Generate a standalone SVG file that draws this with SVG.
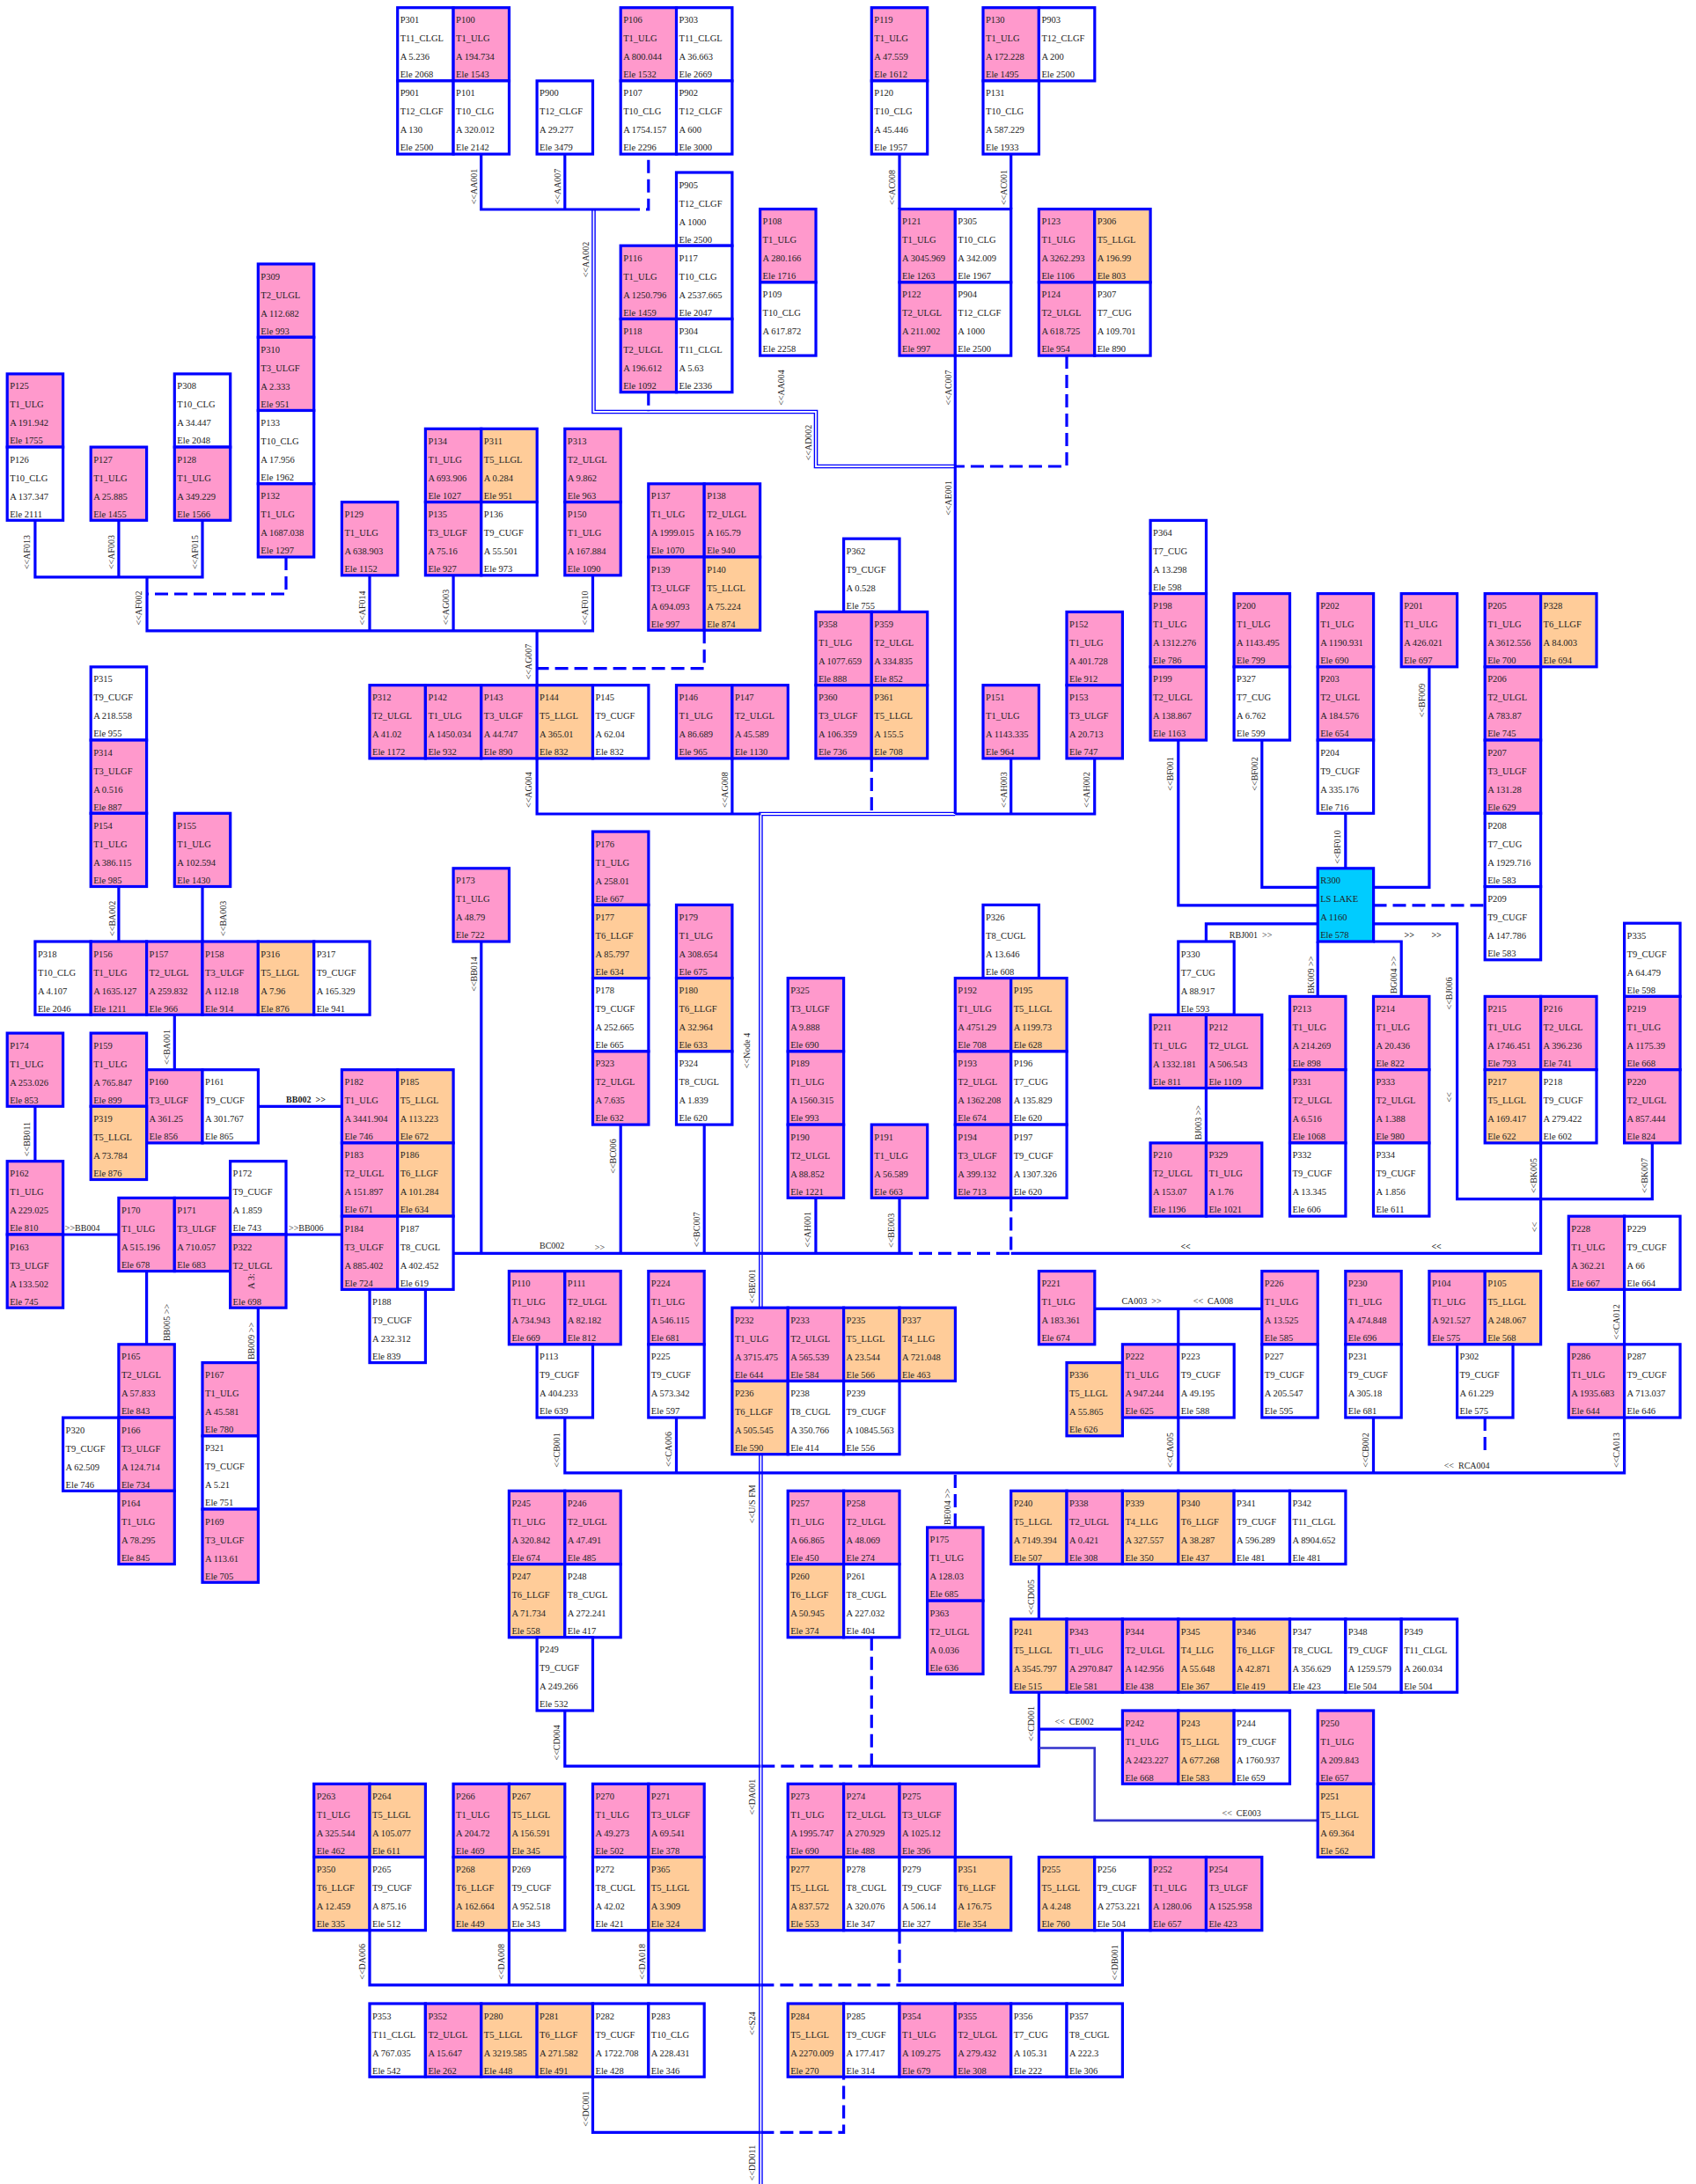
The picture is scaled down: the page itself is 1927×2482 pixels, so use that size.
<svg xmlns="http://www.w3.org/2000/svg" width="1927" height="2482" viewBox="0 0 1927 2482">
<style>
text{font-family:"Liberation Serif","Times New Roman",serif;font-size:10.5px;fill:#222}
g.n rect{stroke:#0000ff;stroke-width:3.2}
.w{fill:#fff}.p{fill:#ff99cc}.o{fill:#ffcc99}.c{fill:#00ccff}
#edges path{fill:none;stroke:#0000ff;stroke-width:3.2}
#edges path.d{stroke-dasharray:15 7}
#edges path.dbl{stroke-width:4.6}
#edges path.dbi{stroke:#fff;stroke-width:1.8}
#edges path.e3{stroke:#3333cc;stroke-width:2.6}
.lb{font-size:10px;white-space:pre}
.bd{font-weight:bold}
</style>
<rect width="1927" height="2482" fill="#fff"/>
<g id="edges">
<path class="dbl" d="M674.5,238 V468 H927 V530 H1085.3"/>
<path class="dbi" d="M674.5,238 V468 H927 V530 H1085.3"/>
<path class="dbl" d="M1085.3,925 H864.4 V2482"/>
<path class="dbi" d="M1085.3,925 H864.4 V2482"/>
<path d="M546.7,175.2 V238 H712"/>
<path d="M641.8,175.2 V238"/>
<path d="M1022,175.2 V237.6"/>
<path d="M1148.7,175.2 V237.6"/>
<path d="M1085.3,404.1 V925"/>
<path d="M39.9,591.4 V655.8 H230 V591.4"/>
<path d="M134.9,591.4 V655.8"/>
<path d="M167,655.8 V716.8 H673.5 V653.8"/>
<path d="M420,653.8 V716.8"/>
<path d="M515.1,653.8 V716.8"/>
<path d="M610.1,716.8 V778.7"/>
<path d="M610.1,861.9 V925 H864.4"/>
<path d="M831.9,861.9 V925"/>
<path d="M1085.3,925 H1243.7 V861.9"/>
<path d="M1148.7,861.9 V925"/>
<path d="M134.9,1007.6 V1070"/>
<path d="M230,1007.6 V1070"/>
<path d="M198.3,1153.3 V1215.7"/>
<path d="M39.9,1257.3 V1319.7"/>
<path d="M71.6,1403 H134.9"/>
<path d="M293.3,1257.3 H388.4"/>
<path d="M166.6,1444.6 V1527.8"/>
<path d="M325,1403 H388.4"/>
<path d="M293.3,1486.2 V1548.6"/>
<path d="M546.8,1070 V1424.3"/>
<path d="M515.1,1424.3 H1022"/>
<path d="M1148.7,1424.3 H1750.6 V1298.9"/>
<path d="M705.2,1278.1 V1424.3"/>
<path d="M800.2,1278.1 V1424.3"/>
<path d="M926.9,1361.4 V1424.3"/>
<path d="M1022,1361.4 V1424.3"/>
<path d="M1560.5,1049.9 H1655.6 V1362.6 H1877.3 V1298.9"/>
<path d="M1338.8,841.1 V1028.9 H1497.2"/>
<path d="M1433.8,841.1 V1008.3 H1497.2"/>
<path d="M1528.8,924.3 V986.8"/>
<path d="M1623.9,757.9 V1008.3 H1560.5"/>
<path d="M1497.2,1049.9 H1370.4 V1070"/>
<path d="M1497.2,1070 V1132.4"/>
<path d="M1560.5,1070 H1592.2 V1132.4"/>
<path d="M1370.4,1236.5 V1298.9"/>
<path d="M1845.6,1465.4 V1527.8"/>
<path d="M1845.6,1611.1 V1673.8 H641.8 V1611.1"/>
<path d="M768.5,1611.1 V1673.8"/>
<path d="M1338.8,1611.1 V1673.8"/>
<path d="M1560.5,1611.1 V1673.8"/>
<path d="M1243.7,1487.3 H1433.8"/>
<path d="M1338.8,1487.3 V1527.8"/>
<path d="M1180.4,1777.6 V1840"/>
<path d="M1180.4,1923.2 V2007.1 H990.3"/>
<path d="M864.4,2007.1 H641.8 V1944"/>
<path d="M1180.4,1965.1 H1275.4"/>
<path d="M420,2193.8 V2255.8 H864.4"/>
<path d="M1022,2255.8 H1275.4 V2193.8"/>
<path d="M578.4,2193.8 V2255.8"/>
<path d="M736.8,2193.8 V2255.8"/>
<path d="M673.5,2360.2 V2423.3 H864.4"/>
<path class="e3" d="M1180.4,1986.5 H1243.7 V2068.9 H1497.2"/>
<path class="d" d="M712,238 H736.8 V175.2"/>
<path class="d" d="M1212,404.1 V530 H1085.3"/>
<path class="d" d="M736.8,445.7 V468"/>
<path class="d" d="M325,633 V675 H167"/>
<path class="d" d="M800.2,716.2 V759.6 H610.1"/>
<path class="d" d="M990.3,861.9 V925"/>
<path class="d" d="M1022,1424.3 H1148.7"/>
<path class="d" d="M1148.7,1361.4 V1424.3"/>
<path class="d" d="M1560.5,1028.9 H1687.2"/>
<path class="d" d="M1687.2,1611.1 V1655"/>
<path class="d" d="M1085.3,1676 V1735.9"/>
<path class="d" d="M990.3,2007.1 H864.4"/>
<path class="d" d="M990.3,1860.8 V2007.1"/>
<path class="d" d="M864.4,2255.8 H1022"/>
<path class="d" d="M1022,2193.8 V2255.8"/>
<path class="d" d="M864.4,2423.3 H958.6 V2360.2"/>
</g>
<g id="edge-labels" text-anchor="middle">
<text class="lb" transform="translate(541.8 212) rotate(-90)">&lt;&lt;AA001</text>
<text class="lb" transform="translate(637 212) rotate(-90)">&lt;&lt;AA007</text>
<text class="lb" transform="translate(669.1 295) rotate(-90)">&lt;&lt;AA002</text>
<text class="lb" transform="translate(890.5 440.5) rotate(-90)">&lt;&lt;AA004</text>
<text class="lb" transform="translate(922 503) rotate(-90)">&lt;&lt;AD002</text>
<text class="lb" transform="translate(1016.7 213) rotate(-90)">&lt;&lt;AC008</text>
<text class="lb" transform="translate(1143.5 213) rotate(-90)">&lt;&lt;AC001</text>
<text class="lb" transform="translate(1081.1 440.5) rotate(-90)">&lt;&lt;AC007</text>
<text class="lb" transform="translate(1081.1 566) rotate(-90)">&lt;&lt;AE001</text>
<text class="lb" transform="translate(34.3 627.5) rotate(-90)">&lt;&lt;AF013</text>
<text class="lb" transform="translate(130.2 627.5) rotate(-90)">&lt;&lt;AF003</text>
<text class="lb" transform="translate(224.9 627.5) rotate(-90)">&lt;&lt;AF015</text>
<text class="lb" transform="translate(161.4 691) rotate(-90)">&lt;&lt;AF002</text>
<text class="lb" transform="translate(414.7 691) rotate(-90)">&lt;&lt;AF014</text>
<text class="lb" transform="translate(509.9 690) rotate(-90)">&lt;&lt;AG003</text>
<text class="lb" transform="translate(667.8 691) rotate(-90)">&lt;&lt;AF010</text>
<text class="lb" transform="translate(604.2 752) rotate(-90)">&lt;&lt;AG007</text>
<text class="lb" transform="translate(604.2 897.6) rotate(-90)">&lt;&lt;AG004</text>
<text class="lb" transform="translate(826.9 897.6) rotate(-90)">&lt;&lt;AG008</text>
<text class="lb" transform="translate(1143.5 897.6) rotate(-90)">&lt;&lt;AH003</text>
<text class="lb" transform="translate(1238.1 897.6) rotate(-90)">&lt;&lt;AH002</text>
<text class="lb" transform="translate(130.6 1043.8) rotate(-90)">&lt;&lt;BA002</text>
<text class="lb" transform="translate(256.5 1043.8) rotate(-90)">&lt;&lt;BA003</text>
<text class="lb" transform="translate(192.9 1190) rotate(-90)">&lt;&lt;BA001</text>
<text class="lb" transform="translate(541.8 1107) rotate(-90)">&lt;&lt;BB014</text>
<text class="lb" transform="translate(851.5 1194) rotate(-90)">&lt;&lt;Node 4</text>
<text class="lb" transform="translate(1333.4 879.4) rotate(-90)">&lt;&lt;BF001</text>
<text class="lb" transform="translate(1429 879.4) rotate(-90)">&lt;&lt;BF002</text>
<text class="lb" transform="translate(1523.3 962.5) rotate(-90)">&lt;&lt;BF010</text>
<text class="lb" transform="translate(1618.8 796) rotate(-90)">&lt;&lt;BF009</text>
<text class="lb" transform="translate(1492.5 1108) rotate(-90)">BK009 &gt;&gt;</text>
<text class="lb" transform="translate(1586.8 1108) rotate(-90)">BG004 &gt;&gt;</text>
<text class="lb" transform="translate(1650.4 1129) rotate(-90)">&lt;&lt;BJ006</text>
<text class="lb" transform="translate(1650.4 1247) rotate(-90)">&lt;&lt;</text>
<text class="lb" transform="translate(34.3 1294.5) rotate(-90)">&lt;&lt;BB011</text>
<text class="lb" transform="translate(192.9 1503) rotate(-90)">BB005 &gt;&gt;</text>
<text class="lb" transform="translate(288.5 1524) rotate(-90)">BB009 &gt;&gt;</text>
<text class="lb" transform="translate(636.1 1648) rotate(-90)">&lt;&lt;CB001</text>
<text class="lb" transform="translate(699.8 1314) rotate(-90)">&lt;&lt;BC006</text>
<text class="lb" transform="translate(794.9 1397.4) rotate(-90)">&lt;&lt;BC007</text>
<text class="lb" transform="translate(921.2 1397.4) rotate(-90)">&lt;&lt;AH001</text>
<text class="lb" transform="translate(1016.3 1398.4) rotate(-90)">&lt;&lt;BE003</text>
<text class="lb" transform="translate(857.7 1461.8) rotate(-90)">&lt;&lt;BE001</text>
<text class="lb" transform="translate(763.4 1647) rotate(-90)">&lt;&lt;CA006</text>
<text class="lb" transform="translate(857.7 1709.3) rotate(-90)">&lt;&lt;U/S FM</text>
<text class="lb" transform="translate(1080.3 1712.3) rotate(-90)">BE004 &gt;&gt;</text>
<text class="lb" transform="translate(1175.4 1815.2) rotate(-90)">&lt;&lt;CD005</text>
<text class="lb" transform="translate(1365.4 1275.7) rotate(-90)">BJ003 &gt;&gt;</text>
<text class="lb" transform="translate(1745.9 1336) rotate(-90)">&lt;&lt;BK005</text>
<text class="lb" transform="translate(1871.8 1336) rotate(-90)">&lt;&lt;BK007</text>
<text class="lb" transform="translate(1746.7 1394.5) rotate(-90)">&lt;&lt;</text>
<text class="lb" transform="translate(1840.2 1502.4) rotate(-90)">&lt;&lt;CA012</text>
<text class="lb" transform="translate(1333.4 1648) rotate(-90)">&lt;&lt;CA005</text>
<text class="lb" transform="translate(1554.8 1648) rotate(-90)">&lt;&lt;CB002</text>
<text class="lb" transform="translate(1840.2 1648) rotate(-90)">&lt;&lt;CA013</text>
<text class="lb" transform="translate(636.1 1980.4) rotate(-90)">&lt;&lt;CD004</text>
<text class="lb" transform="translate(1175.4 1959) rotate(-90)">&lt;&lt;CD001</text>
<text class="lb" transform="translate(857.7 2042.2) rotate(-90)">&lt;&lt;DA001</text>
<text class="lb" transform="translate(414.7 2229.3) rotate(-90)">&lt;&lt;DA006</text>
<text class="lb" transform="translate(573.4 2229.3) rotate(-90)">&lt;&lt;DA008</text>
<text class="lb" transform="translate(732.6 2229.3) rotate(-90)">&lt;&lt;DA018</text>
<text class="lb" transform="translate(1269.7 2230.3) rotate(-90)">&lt;&lt;DB001</text>
<text class="lb" transform="translate(857.7 2299.6) rotate(-90)">&lt;&lt;S24</text>
<text class="lb" transform="translate(669.1 2396.6) rotate(-90)">&lt;&lt;DC001</text>
<text class="lb" transform="translate(857.7 2458) rotate(-90)">&lt;&lt;DD011</text>
</g>
<g id="edge-labels-h">
<text class="lb" x="73.8" y="1399">&gt;&gt;BB004</text>
<text class="lb" x="328" y="1399">&gt;&gt;BB006</text>
<text class="lb bd" x="325.1" y="1253.2">BB002  &gt;&gt;</text>
<text class="lb" x="613" y="1418.7">BC002</text>
<text class="lb" x="675.8" y="1420.7">&gt;&gt;</text>
<text class="lb bd" x="1341.4" y="1420">&lt;&lt;</text>
<text class="lb bd" x="1626.4" y="1420">&lt;&lt;</text>
<text class="lb" x="1274.4" y="1482">CA003  &gt;&gt;</text>
<text class="lb" x="1355.8" y="1482">&lt;&lt;  CA008</text>
<text class="lb" x="1640.7" y="1669">&lt;&lt;  RCA004</text>
<text class="lb" x="1396.8" y="1066">RBJ001  &gt;&gt;</text>
<text class="lb bd" x="1595.6" y="1066">&gt;&gt;</text>
<text class="lb bd" x="1626.4" y="1066">&gt;&gt;</text>
<text class="lb" x="1198.6" y="1960">&lt;&lt;  CE002</text>
<text class="lb" x="1388.6" y="2064">&lt;&lt;  CE003</text>
</g>
<g id="nodes">
<g id="P301" class="n" transform="translate(451.7 8.7)"><rect class="w" width="63.4" height="83.2"/><text x="3" y="17.5">P301</text><text x="3" y="38.5">T11_CLGL</text><text x="3" y="59.5">A 5.236</text><text x="3" y="79.5">Ele 2068</text></g>
<g id="P100" class="n" transform="translate(515.1 8.7)"><rect class="p" width="63.4" height="83.2"/><text x="3" y="17.5">P100</text><text x="3" y="38.5">T1_ULG</text><text x="3" y="59.5">A 194.734</text><text x="3" y="79.5">Ele 1543</text></g>
<g id="P901" class="n" transform="translate(451.7 91.9)"><rect class="w" width="63.4" height="83.2"/><text x="3" y="17.5">P901</text><text x="3" y="38.5">T12_CLGF</text><text x="3" y="59.5">A 130</text><text x="3" y="79.5">Ele 2500</text></g>
<g id="P101" class="n" transform="translate(515.1 91.9)"><rect class="w" width="63.4" height="83.2"/><text x="3" y="17.5">P101</text><text x="3" y="38.5">T10_CLG</text><text x="3" y="59.5">A 320.012</text><text x="3" y="79.5">Ele 2142</text></g>
<g id="P900" class="n" transform="translate(610.1 91.9)"><rect class="w" width="63.4" height="83.2"/><text x="3" y="17.5">P900</text><text x="3" y="38.5">T12_CLGF</text><text x="3" y="59.5">A 29.277</text><text x="3" y="79.5">Ele 3479</text></g>
<g id="P106" class="n" transform="translate(705.2 8.7)"><rect class="p" width="63.4" height="83.2"/><text x="3" y="17.5">P106</text><text x="3" y="38.5">T1_ULG</text><text x="3" y="59.5">A 800.044</text><text x="3" y="79.5">Ele 1532</text></g>
<g id="P303" class="n" transform="translate(768.5 8.7)"><rect class="w" width="63.4" height="83.2"/><text x="3" y="17.5">P303</text><text x="3" y="38.5">T11_CLGL</text><text x="3" y="59.5">A 36.663</text><text x="3" y="79.5">Ele 2669</text></g>
<g id="P107" class="n" transform="translate(705.2 91.9)"><rect class="w" width="63.4" height="83.2"/><text x="3" y="17.5">P107</text><text x="3" y="38.5">T10_CLG</text><text x="3" y="59.5">A 1754.157</text><text x="3" y="79.5">Ele 2296</text></g>
<g id="P902" class="n" transform="translate(768.5 91.9)"><rect class="w" width="63.4" height="83.2"/><text x="3" y="17.5">P902</text><text x="3" y="38.5">T12_CLGF</text><text x="3" y="59.5">A 600</text><text x="3" y="79.5">Ele 3000</text></g>
<g id="P119" class="n" transform="translate(990.3 8.7)"><rect class="p" width="63.4" height="83.2"/><text x="3" y="17.5">P119</text><text x="3" y="38.5">T1_ULG</text><text x="3" y="59.5">A 47.559</text><text x="3" y="79.5">Ele 1612</text></g>
<g id="P120" class="n" transform="translate(990.3 91.9)"><rect class="w" width="63.4" height="83.2"/><text x="3" y="17.5">P120</text><text x="3" y="38.5">T10_CLG</text><text x="3" y="59.5">A 45.446</text><text x="3" y="79.5">Ele 1957</text></g>
<g id="P130" class="n" transform="translate(1117 8.7)"><rect class="p" width="63.4" height="83.2"/><text x="3" y="17.5">P130</text><text x="3" y="38.5">T1_ULG</text><text x="3" y="59.5">A 172.228</text><text x="3" y="79.5">Ele 1495</text></g>
<g id="P903" class="n" transform="translate(1180.4 8.7)"><rect class="w" width="63.4" height="83.2"/><text x="3" y="17.5">P903</text><text x="3" y="38.5">T12_CLGF</text><text x="3" y="59.5">A 200</text><text x="3" y="79.5">Ele 2500</text></g>
<g id="P131" class="n" transform="translate(1117 91.9)"><rect class="w" width="63.4" height="83.2"/><text x="3" y="17.5">P131</text><text x="3" y="38.5">T10_CLG</text><text x="3" y="59.5">A 587.229</text><text x="3" y="79.5">Ele 1933</text></g>
<g id="P905" class="n" transform="translate(768.5 196)"><rect class="w" width="63.4" height="83.2"/><text x="3" y="17.5">P905</text><text x="3" y="38.5">T12_CLGF</text><text x="3" y="59.5">A 1000</text><text x="3" y="79.5">Ele 2500</text></g>
<g id="P116" class="n" transform="translate(705.2 279.2)"><rect class="p" width="63.4" height="83.2"/><text x="3" y="17.5">P116</text><text x="3" y="38.5">T1_ULG</text><text x="3" y="59.5">A 1250.796</text><text x="3" y="79.5">Ele 1459</text></g>
<g id="P117" class="n" transform="translate(768.5 279.2)"><rect class="w" width="63.4" height="83.2"/><text x="3" y="17.5">P117</text><text x="3" y="38.5">T10_CLG</text><text x="3" y="59.5">A 2537.665</text><text x="3" y="79.5">Ele 2047</text></g>
<g id="P118" class="n" transform="translate(705.2 362.5)"><rect class="p" width="63.4" height="83.2"/><text x="3" y="17.5">P118</text><text x="3" y="38.5">T2_ULGL</text><text x="3" y="59.5">A 196.612</text><text x="3" y="79.5">Ele 1092</text></g>
<g id="P304" class="n" transform="translate(768.5 362.5)"><rect class="w" width="63.4" height="83.2"/><text x="3" y="17.5">P304</text><text x="3" y="38.5">T11_CLGL</text><text x="3" y="59.5">A 5.63</text><text x="3" y="79.5">Ele 2336</text></g>
<g id="P108" class="n" transform="translate(863.6 237.6)"><rect class="p" width="63.4" height="83.2"/><text x="3" y="17.5">P108</text><text x="3" y="38.5">T1_ULG</text><text x="3" y="59.5">A 280.166</text><text x="3" y="79.5">Ele 1716</text></g>
<g id="P109" class="n" transform="translate(863.6 320.9)"><rect class="w" width="63.4" height="83.2"/><text x="3" y="17.5">P109</text><text x="3" y="38.5">T10_CLG</text><text x="3" y="59.5">A 617.872</text><text x="3" y="79.5">Ele 2258</text></g>
<g id="P121" class="n" transform="translate(1022 237.6)"><rect class="p" width="63.4" height="83.2"/><text x="3" y="17.5">P121</text><text x="3" y="38.5">T1_ULG</text><text x="3" y="59.5">A 3045.969</text><text x="3" y="79.5">Ele 1263</text></g>
<g id="P305" class="n" transform="translate(1085.3 237.6)"><rect class="w" width="63.4" height="83.2"/><text x="3" y="17.5">P305</text><text x="3" y="38.5">T10_CLG</text><text x="3" y="59.5">A 342.009</text><text x="3" y="79.5">Ele 1967</text></g>
<g id="P122" class="n" transform="translate(1022 320.9)"><rect class="p" width="63.4" height="83.2"/><text x="3" y="17.5">P122</text><text x="3" y="38.5">T2_ULGL</text><text x="3" y="59.5">A 211.002</text><text x="3" y="79.5">Ele 997</text></g>
<g id="P904" class="n" transform="translate(1085.3 320.9)"><rect class="w" width="63.4" height="83.2"/><text x="3" y="17.5">P904</text><text x="3" y="38.5">T12_CLGF</text><text x="3" y="59.5">A 1000</text><text x="3" y="79.5">Ele 2500</text></g>
<g id="P123" class="n" transform="translate(1180.4 237.6)"><rect class="p" width="63.4" height="83.2"/><text x="3" y="17.5">P123</text><text x="3" y="38.5">T1_ULG</text><text x="3" y="59.5">A 3262.293</text><text x="3" y="79.5">Ele 1106</text></g>
<g id="P306" class="n" transform="translate(1243.7 237.6)"><rect class="o" width="63.4" height="83.2"/><text x="3" y="17.5">P306</text><text x="3" y="38.5">T5_LLGL</text><text x="3" y="59.5">A 196.99</text><text x="3" y="79.5">Ele 803</text></g>
<g id="P124" class="n" transform="translate(1180.4 320.9)"><rect class="p" width="63.4" height="83.2"/><text x="3" y="17.5">P124</text><text x="3" y="38.5">T2_ULGL</text><text x="3" y="59.5">A 618.725</text><text x="3" y="79.5">Ele 954</text></g>
<g id="P307" class="n" transform="translate(1243.7 320.9)"><rect class="w" width="63.4" height="83.2"/><text x="3" y="17.5">P307</text><text x="3" y="38.5">T7_CUG</text><text x="3" y="59.5">A 109.701</text><text x="3" y="79.5">Ele 890</text></g>
<g id="P309" class="n" transform="translate(293.3 300)"><rect class="p" width="63.4" height="83.2"/><text x="3" y="17.5">P309</text><text x="3" y="38.5">T2_ULGL</text><text x="3" y="59.5">A 112.682</text><text x="3" y="79.5">Ele 993</text></g>
<g id="P310" class="n" transform="translate(293.3 383.3)"><rect class="p" width="63.4" height="83.2"/><text x="3" y="17.5">P310</text><text x="3" y="38.5">T3_ULGF</text><text x="3" y="59.5">A 2.333</text><text x="3" y="79.5">Ele 951</text></g>
<g id="P133" class="n" transform="translate(293.3 466.5)"><rect class="w" width="63.4" height="83.2"/><text x="3" y="17.5">P133</text><text x="3" y="38.5">T10_CLG</text><text x="3" y="59.5">A 17.956</text><text x="3" y="79.5">Ele 1962</text></g>
<g id="P132" class="n" transform="translate(293.3 549.8)"><rect class="p" width="63.4" height="83.2"/><text x="3" y="17.5">P132</text><text x="3" y="38.5">T1_ULG</text><text x="3" y="59.5">A 1687.038</text><text x="3" y="79.5">Ele 1297</text></g>
<g id="P125" class="n" transform="translate(8.2 424.9)"><rect class="p" width="63.4" height="83.2"/><text x="3" y="17.5">P125</text><text x="3" y="38.5">T1_ULG</text><text x="3" y="59.5">A 191.942</text><text x="3" y="79.5">Ele 1755</text></g>
<g id="P126" class="n" transform="translate(8.2 508.1)"><rect class="w" width="63.4" height="83.2"/><text x="3" y="17.5">P126</text><text x="3" y="38.5">T10_CLG</text><text x="3" y="59.5">A 137.347</text><text x="3" y="79.5">Ele 2111</text></g>
<g id="P127" class="n" transform="translate(103.2 508.1)"><rect class="p" width="63.4" height="83.2"/><text x="3" y="17.5">P127</text><text x="3" y="38.5">T1_ULG</text><text x="3" y="59.5">A 25.885</text><text x="3" y="79.5">Ele 1455</text></g>
<g id="P308" class="n" transform="translate(198.3 424.9)"><rect class="w" width="63.4" height="83.2"/><text x="3" y="17.5">P308</text><text x="3" y="38.5">T10_CLG</text><text x="3" y="59.5">A 34.447</text><text x="3" y="79.5">Ele 2048</text></g>
<g id="P128" class="n" transform="translate(198.3 508.1)"><rect class="p" width="63.4" height="83.2"/><text x="3" y="17.5">P128</text><text x="3" y="38.5">T1_ULG</text><text x="3" y="59.5">A 349.229</text><text x="3" y="79.5">Ele 1566</text></g>
<g id="P129" class="n" transform="translate(388.4 570.6)"><rect class="p" width="63.4" height="83.2"/><text x="3" y="17.5">P129</text><text x="3" y="38.5">T1_ULG</text><text x="3" y="59.5">A 638.903</text><text x="3" y="79.5">Ele 1152</text></g>
<g id="P134" class="n" transform="translate(483.4 487.3)"><rect class="p" width="63.4" height="83.2"/><text x="3" y="17.5">P134</text><text x="3" y="38.5">T1_ULG</text><text x="3" y="59.5">A 693.906</text><text x="3" y="79.5">Ele 1027</text></g>
<g id="P311" class="n" transform="translate(546.8 487.3)"><rect class="o" width="63.4" height="83.2"/><text x="3" y="17.5">P311</text><text x="3" y="38.5">T5_LLGL</text><text x="3" y="59.5">A 0.284</text><text x="3" y="79.5">Ele 951</text></g>
<g id="P135" class="n" transform="translate(483.4 570.6)"><rect class="p" width="63.4" height="83.2"/><text x="3" y="17.5">P135</text><text x="3" y="38.5">T3_ULGF</text><text x="3" y="59.5">A 75.16</text><text x="3" y="79.5">Ele 927</text></g>
<g id="P136" class="n" transform="translate(546.8 570.6)"><rect class="w" width="63.4" height="83.2"/><text x="3" y="17.5">P136</text><text x="3" y="38.5">T9_CUGF</text><text x="3" y="59.5">A 55.501</text><text x="3" y="79.5">Ele 973</text></g>
<g id="P313" class="n" transform="translate(641.8 487.3)"><rect class="p" width="63.4" height="83.2"/><text x="3" y="17.5">P313</text><text x="3" y="38.5">T2_ULGL</text><text x="3" y="59.5">A 9.862</text><text x="3" y="79.5">Ele 963</text></g>
<g id="P150" class="n" transform="translate(641.8 570.6)"><rect class="p" width="63.4" height="83.2"/><text x="3" y="17.5">P150</text><text x="3" y="38.5">T1_ULG</text><text x="3" y="59.5">A 167.884</text><text x="3" y="79.5">Ele 1090</text></g>
<g id="P137" class="n" transform="translate(736.8 549.8)"><rect class="p" width="63.4" height="83.2"/><text x="3" y="17.5">P137</text><text x="3" y="38.5">T1_ULG</text><text x="3" y="59.5">A 1999.015</text><text x="3" y="79.5">Ele 1070</text></g>
<g id="P138" class="n" transform="translate(800.2 549.8)"><rect class="p" width="63.4" height="83.2"/><text x="3" y="17.5">P138</text><text x="3" y="38.5">T2_ULGL</text><text x="3" y="59.5">A 165.79</text><text x="3" y="79.5">Ele 940</text></g>
<g id="P139" class="n" transform="translate(736.8 633)"><rect class="p" width="63.4" height="83.2"/><text x="3" y="17.5">P139</text><text x="3" y="38.5">T3_ULGF</text><text x="3" y="59.5">A 694.093</text><text x="3" y="79.5">Ele 997</text></g>
<g id="P140" class="n" transform="translate(800.2 633)"><rect class="o" width="63.4" height="83.2"/><text x="3" y="17.5">P140</text><text x="3" y="38.5">T5_LLGL</text><text x="3" y="59.5">A 75.224</text><text x="3" y="79.5">Ele 874</text></g>
<g id="P362" class="n" transform="translate(958.6 612.2)"><rect class="w" width="63.4" height="83.2"/><text x="3" y="17.5">P362</text><text x="3" y="38.5">T9_CUGF</text><text x="3" y="59.5">A 0.528</text><text x="3" y="79.5">Ele 755</text></g>
<g id="P358" class="n" transform="translate(926.9 695.4)"><rect class="p" width="63.4" height="83.2"/><text x="3" y="17.5">P358</text><text x="3" y="38.5">T1_ULG</text><text x="3" y="59.5">A 1077.659</text><text x="3" y="79.5">Ele 888</text></g>
<g id="P359" class="n" transform="translate(990.3 695.4)"><rect class="p" width="63.4" height="83.2"/><text x="3" y="17.5">P359</text><text x="3" y="38.5">T2_ULGL</text><text x="3" y="59.5">A 334.835</text><text x="3" y="79.5">Ele 852</text></g>
<g id="P360" class="n" transform="translate(926.9 778.7)"><rect class="p" width="63.4" height="83.2"/><text x="3" y="17.5">P360</text><text x="3" y="38.5">T3_ULGF</text><text x="3" y="59.5">A 106.359</text><text x="3" y="79.5">Ele 736</text></g>
<g id="P361" class="n" transform="translate(990.3 778.7)"><rect class="o" width="63.4" height="83.2"/><text x="3" y="17.5">P361</text><text x="3" y="38.5">T5_LLGL</text><text x="3" y="59.5">A 155.5</text><text x="3" y="79.5">Ele 708</text></g>
<g id="P152" class="n" transform="translate(1212 695.4)"><rect class="p" width="63.4" height="83.2"/><text x="3" y="17.5">P152</text><text x="3" y="38.5">T1_ULG</text><text x="3" y="59.5">A 401.728</text><text x="3" y="79.5">Ele 912</text></g>
<g id="P153" class="n" transform="translate(1212 778.7)"><rect class="p" width="63.4" height="83.2"/><text x="3" y="17.5">P153</text><text x="3" y="38.5">T3_ULGF</text><text x="3" y="59.5">A 20.713</text><text x="3" y="79.5">Ele 747</text></g>
<g id="P151" class="n" transform="translate(1117 778.7)"><rect class="p" width="63.4" height="83.2"/><text x="3" y="17.5">P151</text><text x="3" y="38.5">T1_ULG</text><text x="3" y="59.5">A 1143.335</text><text x="3" y="79.5">Ele 964</text></g>
<g id="P312" class="n" transform="translate(420 778.7)"><rect class="p" width="63.4" height="83.2"/><text x="3" y="17.5">P312</text><text x="3" y="38.5">T2_ULGL</text><text x="3" y="59.5">A 41.02</text><text x="3" y="79.5">Ele 1172</text></g>
<g id="P142" class="n" transform="translate(483.4 778.7)"><rect class="p" width="63.4" height="83.2"/><text x="3" y="17.5">P142</text><text x="3" y="38.5">T1_ULG</text><text x="3" y="59.5">A 1450.034</text><text x="3" y="79.5">Ele 932</text></g>
<g id="P143" class="n" transform="translate(546.8 778.7)"><rect class="p" width="63.4" height="83.2"/><text x="3" y="17.5">P143</text><text x="3" y="38.5">T3_ULGF</text><text x="3" y="59.5">A 44.747</text><text x="3" y="79.5">Ele 890</text></g>
<g id="P144" class="n" transform="translate(610.1 778.7)"><rect class="o" width="63.4" height="83.2"/><text x="3" y="17.5">P144</text><text x="3" y="38.5">T5_LLGL</text><text x="3" y="59.5">A 365.01</text><text x="3" y="79.5">Ele 832</text></g>
<g id="P145" class="n" transform="translate(673.5 778.7)"><rect class="w" width="63.4" height="83.2"/><text x="3" y="17.5">P145</text><text x="3" y="38.5">T9_CUGF</text><text x="3" y="59.5">A 62.04</text><text x="3" y="79.5">Ele 832</text></g>
<g id="P146" class="n" transform="translate(768.5 778.7)"><rect class="p" width="63.4" height="83.2"/><text x="3" y="17.5">P146</text><text x="3" y="38.5">T1_ULG</text><text x="3" y="59.5">A 86.689</text><text x="3" y="79.5">Ele 965</text></g>
<g id="P147" class="n" transform="translate(831.9 778.7)"><rect class="p" width="63.4" height="83.2"/><text x="3" y="17.5">P147</text><text x="3" y="38.5">T2_ULGL</text><text x="3" y="59.5">A 45.589</text><text x="3" y="79.5">Ele 1130</text></g>
<g id="P315" class="n" transform="translate(103.2 757.9)"><rect class="w" width="63.4" height="83.2"/><text x="3" y="17.5">P315</text><text x="3" y="38.5">T9_CUGF</text><text x="3" y="59.5">A 218.558</text><text x="3" y="79.5">Ele 955</text></g>
<g id="P314" class="n" transform="translate(103.2 841.1)"><rect class="p" width="63.4" height="83.2"/><text x="3" y="17.5">P314</text><text x="3" y="38.5">T3_ULGF</text><text x="3" y="59.5">A 0.516</text><text x="3" y="79.5">Ele 887</text></g>
<g id="P154" class="n" transform="translate(103.2 924.3)"><rect class="p" width="63.4" height="83.2"/><text x="3" y="17.5">P154</text><text x="3" y="38.5">T1_ULG</text><text x="3" y="59.5">A 386.115</text><text x="3" y="79.5">Ele 985</text></g>
<g id="P155" class="n" transform="translate(198.3 924.3)"><rect class="p" width="63.4" height="83.2"/><text x="3" y="17.5">P155</text><text x="3" y="38.5">T1_ULG</text><text x="3" y="59.5">A 102.594</text><text x="3" y="79.5">Ele 1430</text></g>
<g id="P173" class="n" transform="translate(515.1 986.8)"><rect class="p" width="63.4" height="83.2"/><text x="3" y="17.5">P173</text><text x="3" y="38.5">T1_ULG</text><text x="3" y="59.5">A 48.79</text><text x="3" y="79.5">Ele 722</text></g>
<g id="P318" class="n" transform="translate(39.9 1070)"><rect class="w" width="63.4" height="83.2"/><text x="3" y="17.5">P318</text><text x="3" y="38.5">T10_CLG</text><text x="3" y="59.5">A 4.107</text><text x="3" y="79.5">Ele 2046</text></g>
<g id="P156" class="n" transform="translate(103.2 1070)"><rect class="p" width="63.4" height="83.2"/><text x="3" y="17.5">P156</text><text x="3" y="38.5">T1_ULG</text><text x="3" y="59.5">A 1635.127</text><text x="3" y="79.5">Ele 1211</text></g>
<g id="P157" class="n" transform="translate(166.6 1070)"><rect class="p" width="63.4" height="83.2"/><text x="3" y="17.5">P157</text><text x="3" y="38.5">T2_ULGL</text><text x="3" y="59.5">A 259.832</text><text x="3" y="79.5">Ele 966</text></g>
<g id="P158" class="n" transform="translate(230 1070)"><rect class="p" width="63.4" height="83.2"/><text x="3" y="17.5">P158</text><text x="3" y="38.5">T3_ULGF</text><text x="3" y="59.5">A 112.18</text><text x="3" y="79.5">Ele 914</text></g>
<g id="P316" class="n" transform="translate(293.3 1070)"><rect class="o" width="63.4" height="83.2"/><text x="3" y="17.5">P316</text><text x="3" y="38.5">T5_LLGL</text><text x="3" y="59.5">A 7.96</text><text x="3" y="79.5">Ele 876</text></g>
<g id="P317" class="n" transform="translate(356.7 1070)"><rect class="w" width="63.4" height="83.2"/><text x="3" y="17.5">P317</text><text x="3" y="38.5">T9_CUGF</text><text x="3" y="59.5">A 165.329</text><text x="3" y="79.5">Ele 941</text></g>
<g id="P174" class="n" transform="translate(8.2 1174.1)"><rect class="p" width="63.4" height="83.2"/><text x="3" y="17.5">P174</text><text x="3" y="38.5">T1_ULG</text><text x="3" y="59.5">A 253.026</text><text x="3" y="79.5">Ele 853</text></g>
<g id="P159" class="n" transform="translate(103.2 1174.1)"><rect class="p" width="63.4" height="83.2"/><text x="3" y="17.5">P159</text><text x="3" y="38.5">T1_ULG</text><text x="3" y="59.5">A 765.847</text><text x="3" y="79.5">Ele 899</text></g>
<g id="P160" class="n" transform="translate(166.6 1215.7)"><rect class="p" width="63.4" height="83.2"/><text x="3" y="17.5">P160</text><text x="3" y="38.5">T3_ULGF</text><text x="3" y="59.5">A 361.25</text><text x="3" y="79.5">Ele 856</text></g>
<g id="P161" class="n" transform="translate(230 1215.7)"><rect class="w" width="63.4" height="83.2"/><text x="3" y="17.5">P161</text><text x="3" y="38.5">T9_CUGF</text><text x="3" y="59.5">A 301.767</text><text x="3" y="79.5">Ele 865</text></g>
<g id="P319" class="n" transform="translate(103.2 1257.3)"><rect class="o" width="63.4" height="83.2"/><text x="3" y="17.5">P319</text><text x="3" y="38.5">T5_LLGL</text><text x="3" y="59.5">A 73.784</text><text x="3" y="79.5">Ele 876</text></g>
<g id="P162" class="n" transform="translate(8.2 1319.7)"><rect class="p" width="63.4" height="83.2"/><text x="3" y="17.5">P162</text><text x="3" y="38.5">T1_ULG</text><text x="3" y="59.5">A 229.025</text><text x="3" y="79.5">Ele 810</text></g>
<g id="P163" class="n" transform="translate(8.2 1403)"><rect class="p" width="63.4" height="83.2"/><text x="3" y="17.5">P163</text><text x="3" y="38.5">T3_ULGF</text><text x="3" y="59.5">A 133.502</text><text x="3" y="79.5">Ele 745</text></g>
<g id="P170" class="n" transform="translate(134.9 1361.4)"><rect class="p" width="63.4" height="83.2"/><text x="3" y="17.5">P170</text><text x="3" y="38.5">T1_ULG</text><text x="3" y="59.5">A 515.196</text><text x="3" y="79.5">Ele 678</text></g>
<g id="P171" class="n" transform="translate(198.3 1361.4)"><rect class="p" width="63.4" height="83.2"/><text x="3" y="17.5">P171</text><text x="3" y="38.5">T3_ULGF</text><text x="3" y="59.5">A 710.057</text><text x="3" y="79.5">Ele 683</text></g>
<g id="P172" class="n" transform="translate(261.6 1319.7)"><rect class="w" width="63.4" height="83.2"/><text x="3" y="17.5">P172</text><text x="3" y="38.5">T9_CUGF</text><text x="3" y="59.5">A 1.859</text><text x="3" y="79.5">Ele 743</text></g>
<g id="P322" class="n" transform="translate(261.6 1403)"><rect class="p" width="63.4" height="83.2"/><text x="3" y="17.5">P322</text><text x="3" y="38.5">T2_ULGL</text><text transform="translate(26.9 53) rotate(-90)" text-anchor="middle">A 3:</text><text x="3" y="79.5">Ele 698</text></g>
<g id="P182" class="n" transform="translate(388.4 1215.7)"><rect class="p" width="63.4" height="83.2"/><text x="3" y="17.5">P182</text><text x="3" y="38.5">T1_ULG</text><text x="3" y="59.5">A 3441.904</text><text x="3" y="79.5">Ele 746</text></g>
<g id="P185" class="n" transform="translate(451.7 1215.7)"><rect class="o" width="63.4" height="83.2"/><text x="3" y="17.5">P185</text><text x="3" y="38.5">T5_LLGL</text><text x="3" y="59.5">A 113.223</text><text x="3" y="79.5">Ele 672</text></g>
<g id="P183" class="n" transform="translate(388.4 1298.9)"><rect class="p" width="63.4" height="83.2"/><text x="3" y="17.5">P183</text><text x="3" y="38.5">T2_ULGL</text><text x="3" y="59.5">A 151.897</text><text x="3" y="79.5">Ele 671</text></g>
<g id="P186" class="n" transform="translate(451.7 1298.9)"><rect class="o" width="63.4" height="83.2"/><text x="3" y="17.5">P186</text><text x="3" y="38.5">T6_LLGF</text><text x="3" y="59.5">A 101.284</text><text x="3" y="79.5">Ele 634</text></g>
<g id="P184" class="n" transform="translate(388.4 1382.2)"><rect class="p" width="63.4" height="83.2"/><text x="3" y="17.5">P184</text><text x="3" y="38.5">T3_ULGF</text><text x="3" y="59.5">A 885.402</text><text x="3" y="79.5">Ele 724</text></g>
<g id="P187" class="n" transform="translate(451.7 1382.2)"><rect class="w" width="63.4" height="83.2"/><text x="3" y="17.5">P187</text><text x="3" y="38.5">T8_CUGL</text><text x="3" y="59.5">A 402.452</text><text x="3" y="79.5">Ele 619</text></g>
<g id="P188" class="n" transform="translate(420 1465.4)"><rect class="w" width="63.4" height="83.2"/><text x="3" y="17.5">P188</text><text x="3" y="38.5">T9_CUGF</text><text x="3" y="59.5">A 232.312</text><text x="3" y="79.5">Ele 839</text></g>
<g id="P165" class="n" transform="translate(134.9 1527.8)"><rect class="p" width="63.4" height="83.2"/><text x="3" y="17.5">P165</text><text x="3" y="38.5">T2_ULGL</text><text x="3" y="59.5">A 57.833</text><text x="3" y="79.5">Ele 843</text></g>
<g id="P320" class="n" transform="translate(71.6 1611.1)"><rect class="w" width="63.4" height="83.2"/><text x="3" y="17.5">P320</text><text x="3" y="38.5">T9_CUGF</text><text x="3" y="59.5">A 62.509</text><text x="3" y="79.5">Ele 746</text></g>
<g id="P166" class="n" transform="translate(134.9 1611.1)"><rect class="p" width="63.4" height="83.2"/><text x="3" y="17.5">P166</text><text x="3" y="38.5">T3_ULGF</text><text x="3" y="59.5">A 124.714</text><text x="3" y="79.5">Ele 734</text></g>
<g id="P164" class="n" transform="translate(134.9 1694.3)"><rect class="p" width="63.4" height="83.2"/><text x="3" y="17.5">P164</text><text x="3" y="38.5">T1_ULG</text><text x="3" y="59.5">A 78.295</text><text x="3" y="79.5">Ele 845</text></g>
<g id="P167" class="n" transform="translate(230 1548.6)"><rect class="p" width="63.4" height="83.2"/><text x="3" y="17.5">P167</text><text x="3" y="38.5">T1_ULG</text><text x="3" y="59.5">A 45.581</text><text x="3" y="79.5">Ele 780</text></g>
<g id="P321" class="n" transform="translate(230 1631.9)"><rect class="w" width="63.4" height="83.2"/><text x="3" y="17.5">P321</text><text x="3" y="38.5">T9_CUGF</text><text x="3" y="59.5">A 5.21</text><text x="3" y="79.5">Ele 751</text></g>
<g id="P169" class="n" transform="translate(230 1715.1)"><rect class="p" width="63.4" height="83.2"/><text x="3" y="17.5">P169</text><text x="3" y="38.5">T3_ULGF</text><text x="3" y="59.5">A 113.61</text><text x="3" y="79.5">Ele 705</text></g>
<g id="P176" class="n" transform="translate(673.5 945.1)"><rect class="p" width="63.4" height="83.2"/><text x="3" y="17.5">P176</text><text x="3" y="38.5">T1_ULG</text><text x="3" y="59.5">A 258.01</text><text x="3" y="79.5">Ele 667</text></g>
<g id="P177" class="n" transform="translate(673.5 1028.4)"><rect class="o" width="63.4" height="83.2"/><text x="3" y="17.5">P177</text><text x="3" y="38.5">T6_LLGF</text><text x="3" y="59.5">A 85.797</text><text x="3" y="79.5">Ele 634</text></g>
<g id="P178" class="n" transform="translate(673.5 1111.6)"><rect class="w" width="63.4" height="83.2"/><text x="3" y="17.5">P178</text><text x="3" y="38.5">T9_CUGF</text><text x="3" y="59.5">A 252.665</text><text x="3" y="79.5">Ele 665</text></g>
<g id="P323" class="n" transform="translate(673.5 1194.9)"><rect class="p" width="63.4" height="83.2"/><text x="3" y="17.5">P323</text><text x="3" y="38.5">T2_ULGL</text><text x="3" y="59.5">A 7.635</text><text x="3" y="79.5">Ele 632</text></g>
<g id="P179" class="n" transform="translate(768.5 1028.4)"><rect class="p" width="63.4" height="83.2"/><text x="3" y="17.5">P179</text><text x="3" y="38.5">T1_ULG</text><text x="3" y="59.5">A 308.654</text><text x="3" y="79.5">Ele 675</text></g>
<g id="P180" class="n" transform="translate(768.5 1111.6)"><rect class="o" width="63.4" height="83.2"/><text x="3" y="17.5">P180</text><text x="3" y="38.5">T6_LLGF</text><text x="3" y="59.5">A 32.964</text><text x="3" y="79.5">Ele 633</text></g>
<g id="P324" class="n" transform="translate(768.5 1194.9)"><rect class="w" width="63.4" height="83.2"/><text x="3" y="17.5">P324</text><text x="3" y="38.5">T8_CUGL</text><text x="3" y="59.5">A 1.839</text><text x="3" y="79.5">Ele 620</text></g>
<g id="P325" class="n" transform="translate(895.2 1111.6)"><rect class="p" width="63.4" height="83.2"/><text x="3" y="17.5">P325</text><text x="3" y="38.5">T3_ULGF</text><text x="3" y="59.5">A 9.888</text><text x="3" y="79.5">Ele 690</text></g>
<g id="P189" class="n" transform="translate(895.2 1194.9)"><rect class="p" width="63.4" height="83.2"/><text x="3" y="17.5">P189</text><text x="3" y="38.5">T1_ULG</text><text x="3" y="59.5">A 1560.315</text><text x="3" y="79.5">Ele 993</text></g>
<g id="P190" class="n" transform="translate(895.2 1278.1)"><rect class="p" width="63.4" height="83.2"/><text x="3" y="17.5">P190</text><text x="3" y="38.5">T2_ULGL</text><text x="3" y="59.5">A 88.852</text><text x="3" y="79.5">Ele 1221</text></g>
<g id="P191" class="n" transform="translate(990.3 1278.1)"><rect class="p" width="63.4" height="83.2"/><text x="3" y="17.5">P191</text><text x="3" y="38.5">T1_ULG</text><text x="3" y="59.5">A 56.589</text><text x="3" y="79.5">Ele 663</text></g>
<g id="P326" class="n" transform="translate(1117 1028.4)"><rect class="w" width="63.4" height="83.2"/><text x="3" y="17.5">P326</text><text x="3" y="38.5">T8_CUGL</text><text x="3" y="59.5">A 13.646</text><text x="3" y="79.5">Ele 608</text></g>
<g id="P192" class="n" transform="translate(1085.3 1111.6)"><rect class="p" width="63.4" height="83.2"/><text x="3" y="17.5">P192</text><text x="3" y="38.5">T1_ULG</text><text x="3" y="59.5">A 4751.29</text><text x="3" y="79.5">Ele 708</text></g>
<g id="P195" class="n" transform="translate(1148.7 1111.6)"><rect class="o" width="63.4" height="83.2"/><text x="3" y="17.5">P195</text><text x="3" y="38.5">T5_LLGL</text><text x="3" y="59.5">A 1199.73</text><text x="3" y="79.5">Ele 628</text></g>
<g id="P193" class="n" transform="translate(1085.3 1194.9)"><rect class="p" width="63.4" height="83.2"/><text x="3" y="17.5">P193</text><text x="3" y="38.5">T2_ULGL</text><text x="3" y="59.5">A 1362.208</text><text x="3" y="79.5">Ele 674</text></g>
<g id="P196" class="n" transform="translate(1148.7 1194.9)"><rect class="w" width="63.4" height="83.2"/><text x="3" y="17.5">P196</text><text x="3" y="38.5">T7_CUG</text><text x="3" y="59.5">A 135.829</text><text x="3" y="79.5">Ele 620</text></g>
<g id="P194" class="n" transform="translate(1085.3 1278.1)"><rect class="p" width="63.4" height="83.2"/><text x="3" y="17.5">P194</text><text x="3" y="38.5">T3_ULGF</text><text x="3" y="59.5">A 399.132</text><text x="3" y="79.5">Ele 713</text></g>
<g id="P197" class="n" transform="translate(1148.7 1278.1)"><rect class="w" width="63.4" height="83.2"/><text x="3" y="17.5">P197</text><text x="3" y="38.5">T9_CUGF</text><text x="3" y="59.5">A 1307.326</text><text x="3" y="79.5">Ele 620</text></g>
<g id="P364" class="n" transform="translate(1307.1 591.4)"><rect class="w" width="63.4" height="83.2"/><text x="3" y="17.5">P364</text><text x="3" y="38.5">T7_CUG</text><text x="3" y="59.5">A 13.298</text><text x="3" y="79.5">Ele 598</text></g>
<g id="P198" class="n" transform="translate(1307.1 674.6)"><rect class="p" width="63.4" height="83.2"/><text x="3" y="17.5">P198</text><text x="3" y="38.5">T1_ULG</text><text x="3" y="59.5">A 1312.276</text><text x="3" y="79.5">Ele 786</text></g>
<g id="P199" class="n" transform="translate(1307.1 757.9)"><rect class="p" width="63.4" height="83.2"/><text x="3" y="17.5">P199</text><text x="3" y="38.5">T2_ULGL</text><text x="3" y="59.5">A 138.867</text><text x="3" y="79.5">Ele 1163</text></g>
<g id="P200" class="n" transform="translate(1402.1 674.6)"><rect class="p" width="63.4" height="83.2"/><text x="3" y="17.5">P200</text><text x="3" y="38.5">T1_ULG</text><text x="3" y="59.5">A 1143.495</text><text x="3" y="79.5">Ele 799</text></g>
<g id="P327" class="n" transform="translate(1402.1 757.9)"><rect class="w" width="63.4" height="83.2"/><text x="3" y="17.5">P327</text><text x="3" y="38.5">T7_CUG</text><text x="3" y="59.5">A 6.762</text><text x="3" y="79.5">Ele 599</text></g>
<g id="P202" class="n" transform="translate(1497.2 674.6)"><rect class="p" width="63.4" height="83.2"/><text x="3" y="17.5">P202</text><text x="3" y="38.5">T1_ULG</text><text x="3" y="59.5">A 1190.931</text><text x="3" y="79.5">Ele 690</text></g>
<g id="P203" class="n" transform="translate(1497.2 757.9)"><rect class="p" width="63.4" height="83.2"/><text x="3" y="17.5">P203</text><text x="3" y="38.5">T2_ULGL</text><text x="3" y="59.5">A 184.576</text><text x="3" y="79.5">Ele 654</text></g>
<g id="P204" class="n" transform="translate(1497.2 841.1)"><rect class="w" width="63.4" height="83.2"/><text x="3" y="17.5">P204</text><text x="3" y="38.5">T9_CUGF</text><text x="3" y="59.5">A 335.176</text><text x="3" y="79.5">Ele 716</text></g>
<g id="P201" class="n" transform="translate(1592.2 674.6)"><rect class="p" width="63.4" height="83.2"/><text x="3" y="17.5">P201</text><text x="3" y="38.5">T1_ULG</text><text x="3" y="59.5">A 426.021</text><text x="3" y="79.5">Ele 697</text></g>
<g id="P205" class="n" transform="translate(1687.2 674.6)"><rect class="p" width="63.4" height="83.2"/><text x="3" y="17.5">P205</text><text x="3" y="38.5">T1_ULG</text><text x="3" y="59.5">A 3612.556</text><text x="3" y="79.5">Ele 700</text></g>
<g id="P328" class="n" transform="translate(1750.6 674.6)"><rect class="o" width="63.4" height="83.2"/><text x="3" y="17.5">P328</text><text x="3" y="38.5">T6_LLGF</text><text x="3" y="59.5">A 84.003</text><text x="3" y="79.5">Ele 694</text></g>
<g id="P206" class="n" transform="translate(1687.2 757.9)"><rect class="p" width="63.4" height="83.2"/><text x="3" y="17.5">P206</text><text x="3" y="38.5">T2_ULGL</text><text x="3" y="59.5">A 783.87</text><text x="3" y="79.5">Ele 745</text></g>
<g id="P207" class="n" transform="translate(1687.2 841.1)"><rect class="p" width="63.4" height="83.2"/><text x="3" y="17.5">P207</text><text x="3" y="38.5">T3_ULGF</text><text x="3" y="59.5">A 131.28</text><text x="3" y="79.5">Ele 629</text></g>
<g id="P208" class="n" transform="translate(1687.2 924.3)"><rect class="w" width="63.4" height="83.2"/><text x="3" y="17.5">P208</text><text x="3" y="38.5">T7_CUG</text><text x="3" y="59.5">A 1929.716</text><text x="3" y="79.5">Ele 583</text></g>
<g id="P209" class="n" transform="translate(1687.2 1007.6)"><rect class="w" width="63.4" height="83.2"/><text x="3" y="17.5">P209</text><text x="3" y="38.5">T9_CUGF</text><text x="3" y="59.5">A 147.786</text><text x="3" y="79.5">Ele 583</text></g>
<g id="R300" class="n" transform="translate(1497.2 986.8)"><rect class="c" width="63.4" height="83.2"/><text x="3" y="17.5">R300</text><text x="3" y="38.5">LS LAKE</text><text x="3" y="59.5">A 1160</text><text x="3" y="79.5">Ele 578</text></g>
<g id="P335" class="n" transform="translate(1845.6 1049.2)"><rect class="w" width="63.4" height="83.2"/><text x="3" y="17.5">P335</text><text x="3" y="38.5">T9_CUGF</text><text x="3" y="59.5">A 64.479</text><text x="3" y="79.5">Ele 598</text></g>
<g id="P219" class="n" transform="translate(1845.6 1132.4)"><rect class="p" width="63.4" height="83.2"/><text x="3" y="17.5">P219</text><text x="3" y="38.5">T1_ULG</text><text x="3" y="59.5">A 1175.39</text><text x="3" y="79.5">Ele 668</text></g>
<g id="P220" class="n" transform="translate(1845.6 1215.7)"><rect class="p" width="63.4" height="83.2"/><text x="3" y="17.5">P220</text><text x="3" y="38.5">T2_ULGL</text><text x="3" y="59.5">A 857.444</text><text x="3" y="79.5">Ele 824</text></g>
<g id="P330" class="n" transform="translate(1338.8 1070)"><rect class="w" width="63.4" height="83.2"/><text x="3" y="17.5">P330</text><text x="3" y="38.5">T7_CUG</text><text x="3" y="59.5">A 88.917</text><text x="3" y="79.5">Ele 593</text></g>
<g id="P211" class="n" transform="translate(1307.1 1153.3)"><rect class="p" width="63.4" height="83.2"/><text x="3" y="17.5">P211</text><text x="3" y="38.5">T1_ULG</text><text x="3" y="59.5">A 1332.181</text><text x="3" y="79.5">Ele 811</text></g>
<g id="P212" class="n" transform="translate(1370.4 1153.3)"><rect class="p" width="63.4" height="83.2"/><text x="3" y="17.5">P212</text><text x="3" y="38.5">T2_ULGL</text><text x="3" y="59.5">A 506.543</text><text x="3" y="79.5">Ele 1109</text></g>
<g id="P213" class="n" transform="translate(1465.5 1132.4)"><rect class="p" width="63.4" height="83.2"/><text x="3" y="17.5">P213</text><text x="3" y="38.5">T1_ULG</text><text x="3" y="59.5">A 214.269</text><text x="3" y="79.5">Ele 898</text></g>
<g id="P331" class="n" transform="translate(1465.5 1215.7)"><rect class="p" width="63.4" height="83.2"/><text x="3" y="17.5">P331</text><text x="3" y="38.5">T2_ULGL</text><text x="3" y="59.5">A 6.516</text><text x="3" y="79.5">Ele 1068</text></g>
<g id="P332" class="n" transform="translate(1465.5 1298.9)"><rect class="w" width="63.4" height="83.2"/><text x="3" y="17.5">P332</text><text x="3" y="38.5">T9_CUGF</text><text x="3" y="59.5">A 13.345</text><text x="3" y="79.5">Ele 606</text></g>
<g id="P214" class="n" transform="translate(1560.5 1132.4)"><rect class="p" width="63.4" height="83.2"/><text x="3" y="17.5">P214</text><text x="3" y="38.5">T1_ULG</text><text x="3" y="59.5">A 20.436</text><text x="3" y="79.5">Ele 822</text></g>
<g id="P333" class="n" transform="translate(1560.5 1215.7)"><rect class="p" width="63.4" height="83.2"/><text x="3" y="17.5">P333</text><text x="3" y="38.5">T2_ULGL</text><text x="3" y="59.5">A 1.388</text><text x="3" y="79.5">Ele 980</text></g>
<g id="P334" class="n" transform="translate(1560.5 1298.9)"><rect class="w" width="63.4" height="83.2"/><text x="3" y="17.5">P334</text><text x="3" y="38.5">T9_CUGF</text><text x="3" y="59.5">A 1.856</text><text x="3" y="79.5">Ele 611</text></g>
<g id="P215" class="n" transform="translate(1687.2 1132.4)"><rect class="p" width="63.4" height="83.2"/><text x="3" y="17.5">P215</text><text x="3" y="38.5">T1_ULG</text><text x="3" y="59.5">A 1746.451</text><text x="3" y="79.5">Ele 793</text></g>
<g id="P216" class="n" transform="translate(1750.6 1132.4)"><rect class="p" width="63.4" height="83.2"/><text x="3" y="17.5">P216</text><text x="3" y="38.5">T2_ULGL</text><text x="3" y="59.5">A 396.236</text><text x="3" y="79.5">Ele 741</text></g>
<g id="P217" class="n" transform="translate(1687.2 1215.7)"><rect class="o" width="63.4" height="83.2"/><text x="3" y="17.5">P217</text><text x="3" y="38.5">T5_LLGL</text><text x="3" y="59.5">A 169.417</text><text x="3" y="79.5">Ele 622</text></g>
<g id="P218" class="n" transform="translate(1750.6 1215.7)"><rect class="w" width="63.4" height="83.2"/><text x="3" y="17.5">P218</text><text x="3" y="38.5">T9_CUGF</text><text x="3" y="59.5">A 279.422</text><text x="3" y="79.5">Ele 602</text></g>
<g id="P210" class="n" transform="translate(1307.1 1298.9)"><rect class="p" width="63.4" height="83.2"/><text x="3" y="17.5">P210</text><text x="3" y="38.5">T2_ULGL</text><text x="3" y="59.5">A 153.07</text><text x="3" y="79.5">Ele 1196</text></g>
<g id="P329" class="n" transform="translate(1370.4 1298.9)"><rect class="p" width="63.4" height="83.2"/><text x="3" y="17.5">P329</text><text x="3" y="38.5">T1_ULG</text><text x="3" y="59.5">A 1.76</text><text x="3" y="79.5">Ele 1021</text></g>
<g id="P228" class="n" transform="translate(1782.3 1382.2)"><rect class="p" width="63.4" height="83.2"/><text x="3" y="17.5">P228</text><text x="3" y="38.5">T1_ULG</text><text x="3" y="59.5">A 362.21</text><text x="3" y="79.5">Ele 667</text></g>
<g id="P229" class="n" transform="translate(1845.6 1382.2)"><rect class="w" width="63.4" height="83.2"/><text x="3" y="17.5">P229</text><text x="3" y="38.5">T9_CUGF</text><text x="3" y="59.5">A 66</text><text x="3" y="79.5">Ele 664</text></g>
<g id="P110" class="n" transform="translate(578.4 1444.6)"><rect class="p" width="63.4" height="83.2"/><text x="3" y="17.5">P110</text><text x="3" y="38.5">T1_ULG</text><text x="3" y="59.5">A 734.943</text><text x="3" y="79.5">Ele 669</text></g>
<g id="P111" class="n" transform="translate(641.8 1444.6)"><rect class="p" width="63.4" height="83.2"/><text x="3" y="17.5">P111</text><text x="3" y="38.5">T2_ULGL</text><text x="3" y="59.5">A 82.182</text><text x="3" y="79.5">Ele 812</text></g>
<g id="P113" class="n" transform="translate(610.1 1527.8)"><rect class="w" width="63.4" height="83.2"/><text x="3" y="17.5">P113</text><text x="3" y="38.5">T9_CUGF</text><text x="3" y="59.5">A 404.233</text><text x="3" y="79.5">Ele 639</text></g>
<g id="P224" class="n" transform="translate(736.8 1444.6)"><rect class="p" width="63.4" height="83.2"/><text x="3" y="17.5">P224</text><text x="3" y="38.5">T1_ULG</text><text x="3" y="59.5">A 546.115</text><text x="3" y="79.5">Ele 681</text></g>
<g id="P225" class="n" transform="translate(736.8 1527.8)"><rect class="w" width="63.4" height="83.2"/><text x="3" y="17.5">P225</text><text x="3" y="38.5">T9_CUGF</text><text x="3" y="59.5">A 573.342</text><text x="3" y="79.5">Ele 597</text></g>
<g id="P232" class="n" transform="translate(831.9 1486.2)"><rect class="p" width="63.4" height="83.2"/><text x="3" y="17.5">P232</text><text x="3" y="38.5">T1_ULG</text><text x="3" y="59.5">A 3715.475</text><text x="3" y="79.5">Ele 644</text></g>
<g id="P233" class="n" transform="translate(895.2 1486.2)"><rect class="p" width="63.4" height="83.2"/><text x="3" y="17.5">P233</text><text x="3" y="38.5">T2_ULGL</text><text x="3" y="59.5">A 565.539</text><text x="3" y="79.5">Ele 584</text></g>
<g id="P235" class="n" transform="translate(958.6 1486.2)"><rect class="o" width="63.4" height="83.2"/><text x="3" y="17.5">P235</text><text x="3" y="38.5">T5_LLGL</text><text x="3" y="59.5">A 23.544</text><text x="3" y="79.5">Ele 566</text></g>
<g id="P337" class="n" transform="translate(1022 1486.2)"><rect class="o" width="63.4" height="83.2"/><text x="3" y="17.5">P337</text><text x="3" y="38.5">T4_LLG</text><text x="3" y="59.5">A 721.048</text><text x="3" y="79.5">Ele 463</text></g>
<g id="P236" class="n" transform="translate(831.9 1569.5)"><rect class="o" width="63.4" height="83.2"/><text x="3" y="17.5">P236</text><text x="3" y="38.5">T6_LLGF</text><text x="3" y="59.5">A 505.545</text><text x="3" y="79.5">Ele 590</text></g>
<g id="P238" class="n" transform="translate(895.2 1569.5)"><rect class="w" width="63.4" height="83.2"/><text x="3" y="17.5">P238</text><text x="3" y="38.5">T8_CUGL</text><text x="3" y="59.5">A 350.766</text><text x="3" y="79.5">Ele 414</text></g>
<g id="P239" class="n" transform="translate(958.6 1569.5)"><rect class="w" width="63.4" height="83.2"/><text x="3" y="17.5">P239</text><text x="3" y="38.5">T9_CUGF</text><text x="3" y="59.5">A 10845.563</text><text x="3" y="79.5">Ele 556</text></g>
<g id="P221" class="n" transform="translate(1180.4 1444.6)"><rect class="p" width="63.4" height="83.2"/><text x="3" y="17.5">P221</text><text x="3" y="38.5">T1_ULG</text><text x="3" y="59.5">A 183.361</text><text x="3" y="79.5">Ele 674</text></g>
<g id="P336" class="n" transform="translate(1212 1548.6)"><rect class="o" width="63.4" height="83.2"/><text x="3" y="17.5">P336</text><text x="3" y="38.5">T5_LLGL</text><text x="3" y="59.5">A 55.865</text><text x="3" y="79.5">Ele 626</text></g>
<g id="P222" class="n" transform="translate(1275.4 1527.8)"><rect class="p" width="63.4" height="83.2"/><text x="3" y="17.5">P222</text><text x="3" y="38.5">T1_ULG</text><text x="3" y="59.5">A 947.244</text><text x="3" y="79.5">Ele 625</text></g>
<g id="P223" class="n" transform="translate(1338.8 1527.8)"><rect class="w" width="63.4" height="83.2"/><text x="3" y="17.5">P223</text><text x="3" y="38.5">T9_CUGF</text><text x="3" y="59.5">A 49.195</text><text x="3" y="79.5">Ele 588</text></g>
<g id="P226" class="n" transform="translate(1433.8 1444.6)"><rect class="p" width="63.4" height="83.2"/><text x="3" y="17.5">P226</text><text x="3" y="38.5">T1_ULG</text><text x="3" y="59.5">A 13.525</text><text x="3" y="79.5">Ele 585</text></g>
<g id="P227" class="n" transform="translate(1433.8 1527.8)"><rect class="w" width="63.4" height="83.2"/><text x="3" y="17.5">P227</text><text x="3" y="38.5">T9_CUGF</text><text x="3" y="59.5">A 205.547</text><text x="3" y="79.5">Ele 595</text></g>
<g id="P230" class="n" transform="translate(1528.8 1444.6)"><rect class="p" width="63.4" height="83.2"/><text x="3" y="17.5">P230</text><text x="3" y="38.5">T1_ULG</text><text x="3" y="59.5">A 474.848</text><text x="3" y="79.5">Ele 696</text></g>
<g id="P231" class="n" transform="translate(1528.8 1527.8)"><rect class="w" width="63.4" height="83.2"/><text x="3" y="17.5">P231</text><text x="3" y="38.5">T9_CUGF</text><text x="3" y="59.5">A 305.18</text><text x="3" y="79.5">Ele 681</text></g>
<g id="P104" class="n" transform="translate(1623.9 1444.6)"><rect class="p" width="63.4" height="83.2"/><text x="3" y="17.5">P104</text><text x="3" y="38.5">T1_ULG</text><text x="3" y="59.5">A 921.527</text><text x="3" y="79.5">Ele 575</text></g>
<g id="P105" class="n" transform="translate(1687.2 1444.6)"><rect class="o" width="63.4" height="83.2"/><text x="3" y="17.5">P105</text><text x="3" y="38.5">T5_LLGL</text><text x="3" y="59.5">A 248.067</text><text x="3" y="79.5">Ele 568</text></g>
<g id="P302" class="n" transform="translate(1655.6 1527.8)"><rect class="w" width="63.4" height="83.2"/><text x="3" y="17.5">P302</text><text x="3" y="38.5">T9_CUGF</text><text x="3" y="59.5">A 61.229</text><text x="3" y="79.5">Ele 575</text></g>
<g id="P286" class="n" transform="translate(1782.3 1527.8)"><rect class="p" width="63.4" height="83.2"/><text x="3" y="17.5">P286</text><text x="3" y="38.5">T1_ULG</text><text x="3" y="59.5">A 1935.683</text><text x="3" y="79.5">Ele 644</text></g>
<g id="P287" class="n" transform="translate(1845.6 1527.8)"><rect class="w" width="63.4" height="83.2"/><text x="3" y="17.5">P287</text><text x="3" y="38.5">T9_CUGF</text><text x="3" y="59.5">A 713.037</text><text x="3" y="79.5">Ele 646</text></g>
<g id="P245" class="n" transform="translate(578.4 1694.3)"><rect class="p" width="63.4" height="83.2"/><text x="3" y="17.5">P245</text><text x="3" y="38.5">T1_ULG</text><text x="3" y="59.5">A 320.842</text><text x="3" y="79.5">Ele 674</text></g>
<g id="P246" class="n" transform="translate(641.8 1694.3)"><rect class="p" width="63.4" height="83.2"/><text x="3" y="17.5">P246</text><text x="3" y="38.5">T2_ULGL</text><text x="3" y="59.5">A 47.491</text><text x="3" y="79.5">Ele 485</text></g>
<g id="P247" class="n" transform="translate(578.4 1777.6)"><rect class="o" width="63.4" height="83.2"/><text x="3" y="17.5">P247</text><text x="3" y="38.5">T6_LLGF</text><text x="3" y="59.5">A 71.734</text><text x="3" y="79.5">Ele 558</text></g>
<g id="P248" class="n" transform="translate(641.8 1777.6)"><rect class="w" width="63.4" height="83.2"/><text x="3" y="17.5">P248</text><text x="3" y="38.5">T8_CUGL</text><text x="3" y="59.5">A 272.241</text><text x="3" y="79.5">Ele 417</text></g>
<g id="P249" class="n" transform="translate(610.1 1860.8)"><rect class="w" width="63.4" height="83.2"/><text x="3" y="17.5">P249</text><text x="3" y="38.5">T9_CUGF</text><text x="3" y="59.5">A 249.266</text><text x="3" y="79.5">Ele 532</text></g>
<g id="P257" class="n" transform="translate(895.2 1694.3)"><rect class="p" width="63.4" height="83.2"/><text x="3" y="17.5">P257</text><text x="3" y="38.5">T1_ULG</text><text x="3" y="59.5">A 66.865</text><text x="3" y="79.5">Ele 450</text></g>
<g id="P258" class="n" transform="translate(958.6 1694.3)"><rect class="p" width="63.4" height="83.2"/><text x="3" y="17.5">P258</text><text x="3" y="38.5">T2_ULGL</text><text x="3" y="59.5">A 48.069</text><text x="3" y="79.5">Ele 274</text></g>
<g id="P260" class="n" transform="translate(895.2 1777.6)"><rect class="o" width="63.4" height="83.2"/><text x="3" y="17.5">P260</text><text x="3" y="38.5">T6_LLGF</text><text x="3" y="59.5">A 50.945</text><text x="3" y="79.5">Ele 374</text></g>
<g id="P261" class="n" transform="translate(958.6 1777.6)"><rect class="w" width="63.4" height="83.2"/><text x="3" y="17.5">P261</text><text x="3" y="38.5">T8_CUGL</text><text x="3" y="59.5">A 227.032</text><text x="3" y="79.5">Ele 404</text></g>
<g id="P175" class="n" transform="translate(1053.6 1735.9)"><rect class="p" width="63.4" height="83.2"/><text x="3" y="17.5">P175</text><text x="3" y="38.5">T1_ULG</text><text x="3" y="59.5">A 128.03</text><text x="3" y="79.5">Ele 685</text></g>
<g id="P363" class="n" transform="translate(1053.6 1819.2)"><rect class="p" width="63.4" height="83.2"/><text x="3" y="17.5">P363</text><text x="3" y="38.5">T2_ULGL</text><text x="3" y="59.5">A 0.036</text><text x="3" y="79.5">Ele 636</text></g>
<g id="P240" class="n" transform="translate(1148.7 1694.3)"><rect class="o" width="63.4" height="83.2"/><text x="3" y="17.5">P240</text><text x="3" y="38.5">T5_LLGL</text><text x="3" y="59.5">A 7149.394</text><text x="3" y="79.5">Ele 507</text></g>
<g id="P338" class="n" transform="translate(1212 1694.3)"><rect class="p" width="63.4" height="83.2"/><text x="3" y="17.5">P338</text><text x="3" y="38.5">T2_ULGL</text><text x="3" y="59.5">A 0.421</text><text x="3" y="79.5">Ele 308</text></g>
<g id="P339" class="n" transform="translate(1275.4 1694.3)"><rect class="o" width="63.4" height="83.2"/><text x="3" y="17.5">P339</text><text x="3" y="38.5">T4_LLG</text><text x="3" y="59.5">A 327.557</text><text x="3" y="79.5">Ele 350</text></g>
<g id="P340" class="n" transform="translate(1338.8 1694.3)"><rect class="o" width="63.4" height="83.2"/><text x="3" y="17.5">P340</text><text x="3" y="38.5">T6_LLGF</text><text x="3" y="59.5">A 38.287</text><text x="3" y="79.5">Ele 437</text></g>
<g id="P341" class="n" transform="translate(1402.1 1694.3)"><rect class="w" width="63.4" height="83.2"/><text x="3" y="17.5">P341</text><text x="3" y="38.5">T9_CUGF</text><text x="3" y="59.5">A 596.289</text><text x="3" y="79.5">Ele 481</text></g>
<g id="P342" class="n" transform="translate(1465.5 1694.3)"><rect class="w" width="63.4" height="83.2"/><text x="3" y="17.5">P342</text><text x="3" y="38.5">T11_CLGL</text><text x="3" y="59.5">A 8904.652</text><text x="3" y="79.5">Ele 481</text></g>
<g id="P241" class="n" transform="translate(1148.7 1840)"><rect class="o" width="63.4" height="83.2"/><text x="3" y="17.5">P241</text><text x="3" y="38.5">T5_LLGL</text><text x="3" y="59.5">A 3545.797</text><text x="3" y="79.5">Ele 515</text></g>
<g id="P343" class="n" transform="translate(1212 1840)"><rect class="p" width="63.4" height="83.2"/><text x="3" y="17.5">P343</text><text x="3" y="38.5">T1_ULG</text><text x="3" y="59.5">A 2970.847</text><text x="3" y="79.5">Ele 581</text></g>
<g id="P344" class="n" transform="translate(1275.4 1840)"><rect class="p" width="63.4" height="83.2"/><text x="3" y="17.5">P344</text><text x="3" y="38.5">T2_ULGL</text><text x="3" y="59.5">A 142.956</text><text x="3" y="79.5">Ele 438</text></g>
<g id="P345" class="n" transform="translate(1338.8 1840)"><rect class="o" width="63.4" height="83.2"/><text x="3" y="17.5">P345</text><text x="3" y="38.5">T4_LLG</text><text x="3" y="59.5">A 55.648</text><text x="3" y="79.5">Ele 367</text></g>
<g id="P346" class="n" transform="translate(1402.1 1840)"><rect class="o" width="63.4" height="83.2"/><text x="3" y="17.5">P346</text><text x="3" y="38.5">T6_LLGF</text><text x="3" y="59.5">A 42.871</text><text x="3" y="79.5">Ele 419</text></g>
<g id="P347" class="n" transform="translate(1465.5 1840)"><rect class="w" width="63.4" height="83.2"/><text x="3" y="17.5">P347</text><text x="3" y="38.5">T8_CUGL</text><text x="3" y="59.5">A 356.629</text><text x="3" y="79.5">Ele 423</text></g>
<g id="P348" class="n" transform="translate(1528.8 1840)"><rect class="w" width="63.4" height="83.2"/><text x="3" y="17.5">P348</text><text x="3" y="38.5">T9_CUGF</text><text x="3" y="59.5">A 1259.579</text><text x="3" y="79.5">Ele 504</text></g>
<g id="P349" class="n" transform="translate(1592.2 1840)"><rect class="w" width="63.4" height="83.2"/><text x="3" y="17.5">P349</text><text x="3" y="38.5">T11_CLGL</text><text x="3" y="59.5">A 260.034</text><text x="3" y="79.5">Ele 504</text></g>
<g id="P242" class="n" transform="translate(1275.4 1944)"><rect class="p" width="63.4" height="83.2"/><text x="3" y="17.5">P242</text><text x="3" y="38.5">T1_ULG</text><text x="3" y="59.5">A 2423.227</text><text x="3" y="79.5">Ele 668</text></g>
<g id="P243" class="n" transform="translate(1338.8 1944)"><rect class="o" width="63.4" height="83.2"/><text x="3" y="17.5">P243</text><text x="3" y="38.5">T5_LLGL</text><text x="3" y="59.5">A 677.268</text><text x="3" y="79.5">Ele 583</text></g>
<g id="P244" class="n" transform="translate(1402.1 1944)"><rect class="w" width="63.4" height="83.2"/><text x="3" y="17.5">P244</text><text x="3" y="38.5">T9_CUGF</text><text x="3" y="59.5">A 1760.937</text><text x="3" y="79.5">Ele 659</text></g>
<g id="P250" class="n" transform="translate(1497.2 1944)"><rect class="p" width="63.4" height="83.2"/><text x="3" y="17.5">P250</text><text x="3" y="38.5">T1_ULG</text><text x="3" y="59.5">A 209.843</text><text x="3" y="79.5">Ele 657</text></g>
<g id="P251" class="n" transform="translate(1497.2 2027.3)"><rect class="o" width="63.4" height="83.2"/><text x="3" y="17.5">P251</text><text x="3" y="38.5">T5_LLGL</text><text x="3" y="59.5">A 69.364</text><text x="3" y="79.5">Ele 562</text></g>
<g id="P263" class="n" transform="translate(356.7 2027.3)"><rect class="p" width="63.4" height="83.2"/><text x="3" y="17.5">P263</text><text x="3" y="38.5">T1_ULG</text><text x="3" y="59.5">A 325.544</text><text x="3" y="79.5">Ele 462</text></g>
<g id="P264" class="n" transform="translate(420 2027.3)"><rect class="o" width="63.4" height="83.2"/><text x="3" y="17.5">P264</text><text x="3" y="38.5">T5_LLGL</text><text x="3" y="59.5">A 105.077</text><text x="3" y="79.5">Ele 611</text></g>
<g id="P350" class="n" transform="translate(356.7 2110.5)"><rect class="o" width="63.4" height="83.2"/><text x="3" y="17.5">P350</text><text x="3" y="38.5">T6_LLGF</text><text x="3" y="59.5">A 12.459</text><text x="3" y="79.5">Ele 335</text></g>
<g id="P265" class="n" transform="translate(420 2110.5)"><rect class="w" width="63.4" height="83.2"/><text x="3" y="17.5">P265</text><text x="3" y="38.5">T9_CUGF</text><text x="3" y="59.5">A 875.16</text><text x="3" y="79.5">Ele 512</text></g>
<g id="P266" class="n" transform="translate(515.1 2027.3)"><rect class="p" width="63.4" height="83.2"/><text x="3" y="17.5">P266</text><text x="3" y="38.5">T1_ULG</text><text x="3" y="59.5">A 204.72</text><text x="3" y="79.5">Ele 469</text></g>
<g id="P267" class="n" transform="translate(578.4 2027.3)"><rect class="o" width="63.4" height="83.2"/><text x="3" y="17.5">P267</text><text x="3" y="38.5">T5_LLGL</text><text x="3" y="59.5">A 156.591</text><text x="3" y="79.5">Ele 345</text></g>
<g id="P268" class="n" transform="translate(515.1 2110.5)"><rect class="o" width="63.4" height="83.2"/><text x="3" y="17.5">P268</text><text x="3" y="38.5">T6_LLGF</text><text x="3" y="59.5">A 162.664</text><text x="3" y="79.5">Ele 449</text></g>
<g id="P269" class="n" transform="translate(578.4 2110.5)"><rect class="w" width="63.4" height="83.2"/><text x="3" y="17.5">P269</text><text x="3" y="38.5">T9_CUGF</text><text x="3" y="59.5">A 952.518</text><text x="3" y="79.5">Ele 343</text></g>
<g id="P270" class="n" transform="translate(673.5 2027.3)"><rect class="p" width="63.4" height="83.2"/><text x="3" y="17.5">P270</text><text x="3" y="38.5">T1_ULG</text><text x="3" y="59.5">A 49.273</text><text x="3" y="79.5">Ele 502</text></g>
<g id="P271" class="n" transform="translate(736.8 2027.3)"><rect class="p" width="63.4" height="83.2"/><text x="3" y="17.5">P271</text><text x="3" y="38.5">T3_ULGF</text><text x="3" y="59.5">A 69.541</text><text x="3" y="79.5">Ele 378</text></g>
<g id="P272" class="n" transform="translate(673.5 2110.5)"><rect class="w" width="63.4" height="83.2"/><text x="3" y="17.5">P272</text><text x="3" y="38.5">T8_CUGL</text><text x="3" y="59.5">A 42.02</text><text x="3" y="79.5">Ele 421</text></g>
<g id="P365" class="n" transform="translate(736.8 2110.5)"><rect class="o" width="63.4" height="83.2"/><text x="3" y="17.5">P365</text><text x="3" y="38.5">T5_LLGL</text><text x="3" y="59.5">A 3.909</text><text x="3" y="79.5">Ele 324</text></g>
<g id="P273" class="n" transform="translate(895.2 2027.3)"><rect class="p" width="63.4" height="83.2"/><text x="3" y="17.5">P273</text><text x="3" y="38.5">T1_ULG</text><text x="3" y="59.5">A 1995.747</text><text x="3" y="79.5">Ele 690</text></g>
<g id="P274" class="n" transform="translate(958.6 2027.3)"><rect class="p" width="63.4" height="83.2"/><text x="3" y="17.5">P274</text><text x="3" y="38.5">T2_ULGL</text><text x="3" y="59.5">A 270.929</text><text x="3" y="79.5">Ele 488</text></g>
<g id="P275" class="n" transform="translate(1022 2027.3)"><rect class="p" width="63.4" height="83.2"/><text x="3" y="17.5">P275</text><text x="3" y="38.5">T3_ULGF</text><text x="3" y="59.5">A 1025.12</text><text x="3" y="79.5">Ele 396</text></g>
<g id="P277" class="n" transform="translate(895.2 2110.5)"><rect class="o" width="63.4" height="83.2"/><text x="3" y="17.5">P277</text><text x="3" y="38.5">T5_LLGL</text><text x="3" y="59.5">A 837.572</text><text x="3" y="79.5">Ele 553</text></g>
<g id="P278" class="n" transform="translate(958.6 2110.5)"><rect class="w" width="63.4" height="83.2"/><text x="3" y="17.5">P278</text><text x="3" y="38.5">T8_CUGL</text><text x="3" y="59.5">A 320.076</text><text x="3" y="79.5">Ele 347</text></g>
<g id="P279" class="n" transform="translate(1022 2110.5)"><rect class="w" width="63.4" height="83.2"/><text x="3" y="17.5">P279</text><text x="3" y="38.5">T9_CUGF</text><text x="3" y="59.5">A 506.14</text><text x="3" y="79.5">Ele 327</text></g>
<g id="P351" class="n" transform="translate(1085.3 2110.5)"><rect class="o" width="63.4" height="83.2"/><text x="3" y="17.5">P351</text><text x="3" y="38.5">T6_LLGF</text><text x="3" y="59.5">A 176.75</text><text x="3" y="79.5">Ele 354</text></g>
<g id="P255" class="n" transform="translate(1180.4 2110.5)"><rect class="o" width="63.4" height="83.2"/><text x="3" y="17.5">P255</text><text x="3" y="38.5">T5_LLGL</text><text x="3" y="59.5">A 4.248</text><text x="3" y="79.5">Ele 760</text></g>
<g id="P256" class="n" transform="translate(1243.7 2110.5)"><rect class="w" width="63.4" height="83.2"/><text x="3" y="17.5">P256</text><text x="3" y="38.5">T9_CUGF</text><text x="3" y="59.5">A 2753.221</text><text x="3" y="79.5">Ele 504</text></g>
<g id="P252" class="n" transform="translate(1307.1 2110.5)"><rect class="p" width="63.4" height="83.2"/><text x="3" y="17.5">P252</text><text x="3" y="38.5">T1_ULG</text><text x="3" y="59.5">A 1280.06</text><text x="3" y="79.5">Ele 657</text></g>
<g id="P254" class="n" transform="translate(1370.4 2110.5)"><rect class="p" width="63.4" height="83.2"/><text x="3" y="17.5">P254</text><text x="3" y="38.5">T3_ULGF</text><text x="3" y="59.5">A 1525.958</text><text x="3" y="79.5">Ele 423</text></g>
<g id="P353" class="n" transform="translate(420 2277)"><rect class="w" width="63.4" height="83.2"/><text x="3" y="17.5">P353</text><text x="3" y="38.5">T11_CLGL</text><text x="3" y="59.5">A 767.035</text><text x="3" y="79.5">Ele 542</text></g>
<g id="P352" class="n" transform="translate(483.4 2277)"><rect class="p" width="63.4" height="83.2"/><text x="3" y="17.5">P352</text><text x="3" y="38.5">T2_ULGL</text><text x="3" y="59.5">A 15.647</text><text x="3" y="79.5">Ele 262</text></g>
<g id="P280" class="n" transform="translate(546.8 2277)"><rect class="o" width="63.4" height="83.2"/><text x="3" y="17.5">P280</text><text x="3" y="38.5">T5_LLGL</text><text x="3" y="59.5">A 3219.585</text><text x="3" y="79.5">Ele 448</text></g>
<g id="P281" class="n" transform="translate(610.1 2277)"><rect class="o" width="63.4" height="83.2"/><text x="3" y="17.5">P281</text><text x="3" y="38.5">T6_LLGF</text><text x="3" y="59.5">A 271.582</text><text x="3" y="79.5">Ele 491</text></g>
<g id="P282" class="n" transform="translate(673.5 2277)"><rect class="w" width="63.4" height="83.2"/><text x="3" y="17.5">P282</text><text x="3" y="38.5">T9_CUGF</text><text x="3" y="59.5">A 1722.708</text><text x="3" y="79.5">Ele 428</text></g>
<g id="P283" class="n" transform="translate(736.8 2277)"><rect class="w" width="63.4" height="83.2"/><text x="3" y="17.5">P283</text><text x="3" y="38.5">T10_CLG</text><text x="3" y="59.5">A 228.431</text><text x="3" y="79.5">Ele 346</text></g>
<g id="P284" class="n" transform="translate(895.2 2277)"><rect class="o" width="63.4" height="83.2"/><text x="3" y="17.5">P284</text><text x="3" y="38.5">T5_LLGL</text><text x="3" y="59.5">A 2270.009</text><text x="3" y="79.5">Ele 270</text></g>
<g id="P285" class="n" transform="translate(958.6 2277)"><rect class="w" width="63.4" height="83.2"/><text x="3" y="17.5">P285</text><text x="3" y="38.5">T9_CUGF</text><text x="3" y="59.5">A 177.417</text><text x="3" y="79.5">Ele 314</text></g>
<g id="P354" class="n" transform="translate(1022 2277)"><rect class="p" width="63.4" height="83.2"/><text x="3" y="17.5">P354</text><text x="3" y="38.5">T1_ULG</text><text x="3" y="59.5">A 109.275</text><text x="3" y="79.5">Ele 679</text></g>
<g id="P355" class="n" transform="translate(1085.3 2277)"><rect class="p" width="63.4" height="83.2"/><text x="3" y="17.5">P355</text><text x="3" y="38.5">T2_ULGL</text><text x="3" y="59.5">A 279.432</text><text x="3" y="79.5">Ele 308</text></g>
<g id="P356" class="n" transform="translate(1148.7 2277)"><rect class="w" width="63.4" height="83.2"/><text x="3" y="17.5">P356</text><text x="3" y="38.5">T7_CUG</text><text x="3" y="59.5">A 105.31</text><text x="3" y="79.5">Ele 222</text></g>
<g id="P357" class="n" transform="translate(1212 2277)"><rect class="w" width="63.4" height="83.2"/><text x="3" y="17.5">P357</text><text x="3" y="38.5">T8_CUGL</text><text x="3" y="59.5">A 222.3</text><text x="3" y="79.5">Ele 306</text></g>
</g>
</svg>
